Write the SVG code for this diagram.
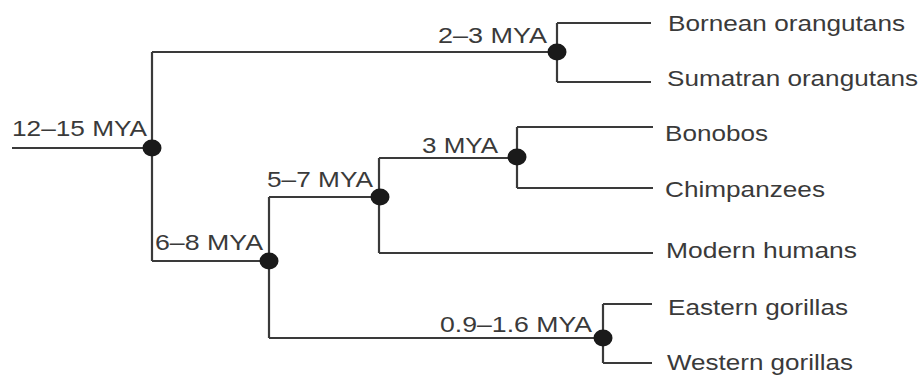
<svg xmlns="http://www.w3.org/2000/svg" width="923" height="379" viewBox="0 0 923 379">
  <style>
    .br { fill: none; stroke: #3a3a3a; stroke-width: 2.2; }
    .dot { fill: #1a1a1a; }
    text { font-family: "Liberation Sans", Arial, sans-serif; font-size: 22.5px; fill: #3a3a3a; }
  </style>
  <rect width="923" height="379" fill="#ffffff"/>

  <!-- branches of the tree -->
  <g id="connectors">
    <path class="br" d="M12,148 H152"/>
    <path class="br" d="M152,52 V261"/>
    <path class="br" d="M152,52 H557"/>
    <path class="br" d="M557,23 V82"/>
    <path class="br" d="M557,23 H651 M557,82 H651"/>
    <path class="br" d="M152,261 H269"/>
    <path class="br" d="M269,197 V338"/>
    <path class="br" d="M269,197 H379"/>
    <path class="br" d="M379,158 V253"/>
    <path class="br" d="M379,253 H653"/>
    <path class="br" d="M379,158 H517"/>
    <path class="br" d="M517,127 V188"/>
    <path class="br" d="M517,127 H653 M517,188 H653"/>
    <path class="br" d="M269,338 H603"/>
    <path class="br" d="M603,304 V363"/>
    <path class="br" d="M603,304 H652 M603,363 H652"/>
  </g>

  <!-- divergence nodes with their dates -->
  <g id="node-root">
    <ellipse class="dot" cx="152" cy="148" rx="9.5" ry="8.5"/>
    <text x="12" y="136" textLength="135" lengthAdjust="spacingAndGlyphs">12–15 MYA</text>
  </g>
  <g id="node-orangutans">
    <ellipse class="dot" cx="557" cy="52" rx="9.5" ry="8.5"/>
    <text x="438" y="43" textLength="109" lengthAdjust="spacingAndGlyphs">2–3 MYA</text>
  </g>
  <g id="node-african">
    <ellipse class="dot" cx="269" cy="261" rx="9.5" ry="8.5"/>
    <text x="155" y="250" textLength="108" lengthAdjust="spacingAndGlyphs">6–8 MYA</text>
  </g>
  <g id="node-hominini">
    <ellipse class="dot" cx="380" cy="197" rx="9.5" ry="8.5"/>
    <text x="267" y="187" textLength="106" lengthAdjust="spacingAndGlyphs">5–7 MYA</text>
  </g>
  <g id="node-pan">
    <ellipse class="dot" cx="517" cy="157" rx="9.5" ry="8.5"/>
    <text x="422" y="153" textLength="76" lengthAdjust="spacingAndGlyphs">3 MYA</text>
  </g>
  <g id="node-gorillas">
    <ellipse class="dot" cx="603" cy="338" rx="9.5" ry="8.5"/>
    <text x="440" y="332" textLength="152" lengthAdjust="spacingAndGlyphs">0.9–1.6 MYA</text>
  </g>

  <!-- living species -->
  <g id="leaf-bornean"><text x="668" y="31" textLength="237" lengthAdjust="spacingAndGlyphs">Bornean orangutans</text></g>
  <g id="leaf-sumatran"><text x="667" y="86" textLength="251" lengthAdjust="spacingAndGlyphs">Sumatran orangutans</text></g>
  <g id="leaf-bonobos"><text x="665" y="141" textLength="103" lengthAdjust="spacingAndGlyphs">Bonobos</text></g>
  <g id="leaf-chimpanzees"><text x="665" y="197" textLength="160" lengthAdjust="spacingAndGlyphs">Chimpanzees</text></g>
  <g id="leaf-humans"><text x="666" y="258" textLength="191" lengthAdjust="spacingAndGlyphs">Modern humans</text></g>
  <g id="leaf-eastern"><text x="668" y="315" textLength="180" lengthAdjust="spacingAndGlyphs">Eastern gorillas</text></g>
  <g id="leaf-western"><text x="667" y="370" textLength="186" lengthAdjust="spacingAndGlyphs">Western gorillas</text></g>
</svg>
